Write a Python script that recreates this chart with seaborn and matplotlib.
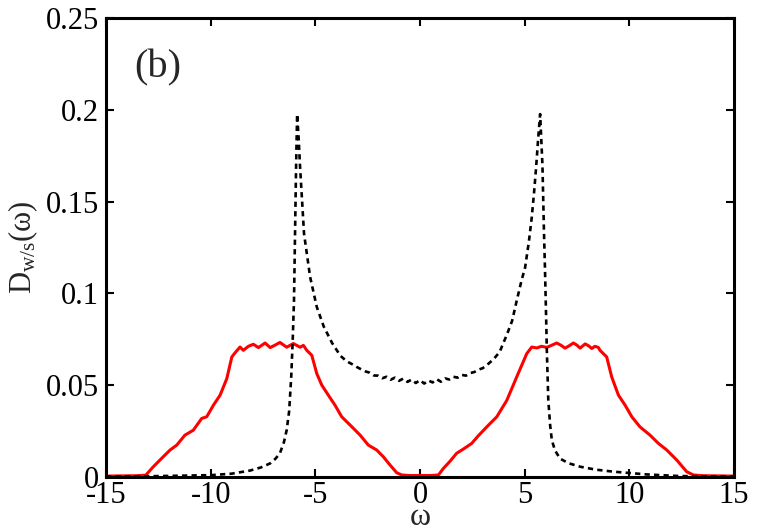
import numpy as np
import matplotlib
matplotlib.use("Agg")
import matplotlib.pyplot as plt
import seaborn as sns

# strong coupling spectrum (red, solid)
red_w = [-15.0, -13.5, -13.1, -12.74, -12.34, -11.94, -11.62, -11.23, -10.83, -10.43,
         -10.19, -9.87, -9.55, -9.23, -8.99, -8.84, -8.6, -8.44, -8.2, -7.96,
         -7.72, -7.4, -7.16, -6.93, -6.69, -6.37, -6.05, -5.73, -5.57, -5.41,
         -5.17, -4.93, -4.69, -4.38, -4.06, -3.74, -3.34, -2.86, -2.47, -2.07,
         -1.75, -1.43, -1.11, -0.87, -0.5, 0.0, 0.5, 0.88, 1.12, 1.43,
         1.75, 2.07, 2.47, 2.79, 3.19, 3.67, 4.15, 4.62, 5.1, 5.34,
         5.58, 5.8, 6.06, 6.3, 6.53, 6.73, 6.93, 7.13, 7.33, 7.5,
         7.65, 7.89, 8.05, 8.21, 8.36, 8.52, 8.6, 8.76, 8.92, 9.16,
         9.48, 9.8, 10.12, 10.51, 10.99, 11.39, 11.79, 12.27, 12.74, 13.06,
         13.5, 15.0]
red_d = [0.0005, 0.0007, 0.001, 0.0056, 0.0102, 0.0147, 0.0174, 0.0228, 0.0255, 0.0319,
         0.0328, 0.0391, 0.0446, 0.0536, 0.0654, 0.0676, 0.0708, 0.069, 0.0712, 0.0723,
         0.0705, 0.073, 0.0705, 0.0718, 0.0733, 0.0707, 0.0727, 0.0707, 0.0717, 0.069,
         0.0663, 0.0563, 0.050, 0.0446, 0.0391, 0.0328, 0.0283, 0.0228, 0.0174, 0.0147,
         0.011, 0.0065, 0.0023, 0.0011, 0.0008, 0.0008, 0.0008, 0.0011, 0.0047, 0.0085,
         0.0129, 0.0152, 0.0183, 0.0225, 0.0273, 0.0328, 0.0418, 0.0545, 0.0672, 0.0708,
         0.0703, 0.0712, 0.0706, 0.0718, 0.073, 0.0718, 0.0702, 0.0715, 0.073, 0.0718,
         0.0702, 0.0725, 0.0715, 0.070, 0.0712, 0.0706, 0.069, 0.0672, 0.0654, 0.0545,
         0.0446, 0.0391, 0.0328, 0.0273, 0.0228, 0.0183, 0.0147, 0.0092, 0.0029, 0.0011,
         0.0007, 0.0005]

# weak coupling spectrum (black, dotted)
blk_w = [-15.0, -13.0, -11.5, -10.0, -9.0, -8.12, -7.6, -7.16, -6.9, -6.69,
         -6.5, -6.37, -6.25, -6.15, -6.08, -6.02, -5.97, -5.92, -5.87, -5.8,
         -5.73, -5.54, -5.25, -4.93, -4.6, -4.2, -3.8, -3.5,
         -3.2, -3.0, -2.8, -2.6, -2.4, -2.2, -2.0, -1.8, -1.6, -1.4,
         -1.2, -1.0, -0.8, -0.6, -0.4, -0.2, 0.0, 0.2, 0.4, 0.6,
         0.8, 1.0, 1.2, 1.4, 1.6, 1.8, 2.0, 2.2, 2.4, 2.6,
         2.8, 3.0, 3.2, 3.5, 3.8, 4.15, 4.4, 4.62, 4.85, 5.02,
         5.2, 5.34, 5.45, 5.55, 5.65, 5.74, 5.85, 5.92, 5.97, 6.03,
         6.06, 6.13, 6.22, 6.3, 6.45, 6.69, 7.1, 7.65, 8.4, 9.24,
         10.83, 12.4, 15.0]
blk_d = [0.0002, 0.0004, 0.0007, 0.001, 0.0018, 0.0035, 0.0052, 0.0074, 0.0100, 0.013,
         0.019, 0.0255, 0.036, 0.055, 0.075, 0.096, 0.1325, 0.169, 0.1977, 0.185,
         0.169, 0.1325, 0.109, 0.0926, 0.082, 0.073, 0.066, 0.063,
         0.0612, 0.0598, 0.0586, 0.0575, 0.0568, 0.0553, 0.0552, 0.0538, 0.0546, 0.0530,
         0.0541, 0.0524, 0.0536, 0.0518, 0.0531, 0.0512, 0.0528, 0.0509, 0.0526, 0.0515,
         0.0533, 0.0519, 0.0537, 0.0531, 0.0546, 0.0541, 0.0556, 0.0552, 0.0566, 0.0572,
         0.0585, 0.0593, 0.0610, 0.064, 0.068, 0.0775, 0.085, 0.096, 0.107, 0.114,
         0.128, 0.1415, 0.155, 0.169, 0.185, 0.1977, 0.17, 0.135, 0.114, 0.085,
         0.069, 0.0418, 0.028, 0.020, 0.0145, 0.010, 0.0075, 0.0056, 0.004, 0.0029,
         0.0014, 0.0005, 0.0002]

x_ticks = [-15, -10, -5, 0, 5, 10, 15]
y_ticks = [0, 0.05, 0.1, 0.15, 0.2, 0.25]
y_tick_labels = ["0", "0.05", "0.1", "0.15", "0.2", "0.25"]

sns.set_style("ticks")
plt.rcParams["font.family"] = ["Liberation Serif", "DejaVu Serif"]
plt.rcParams["mathtext.fontset"] = "custom"
plt.rcParams["mathtext.rm"] = "Liberation Serif"
plt.rcParams["mathtext.it"] = "Liberation Serif:italic"
plt.rcParams["axes.unicode_minus"] = False

fig, ax = plt.subplots(figsize=(7.59, 5.32), dpi=100)
fig.subplots_adjust(left=0.1397, right=0.967, top=0.966, bottom=0.1034)

sns.lineplot(x=red_w, y=red_d, color="red", linewidth=2.2, sort=False,
             estimator=None, ax=ax)
sns.lineplot(x=blk_w, y=blk_d, color="black", linewidth=1.9, sort=False,
             estimator=None, linestyle=(0, (2.0, 1.6)), ax=ax)

ax.set_xlim(-15, 15)
ax.set_ylim(0, 0.25)
ax.set_xticks(x_ticks)
ax.set_xticklabels([str(t) for t in x_ticks])
ax.set_yticks(y_ticks)
ax.set_yticklabels(y_tick_labels)

for s in ax.spines.values():
    s.set_linewidth(2.2)
    s.set_color("black")
ax.tick_params(direction="in", top=True, right=True, length=6, width=1.5,
               labelsize=22, colors="black")
ax.tick_params(axis="x", pad=3)
ax.tick_params(axis="y", pad=5)

ax.set_xlabel("ω", fontsize=23)
ax.xaxis.set_label_coords(0.5, -0.056)
ax.set_ylabel(r"D$_{\mathrm{w/s}}$(ω)", fontsize=22, labelpad=4)
ax.text(-13.66, 0.223, "(b)", fontsize=29, ha="left", va="center")

fig.savefig("out.png", dpi=100)
